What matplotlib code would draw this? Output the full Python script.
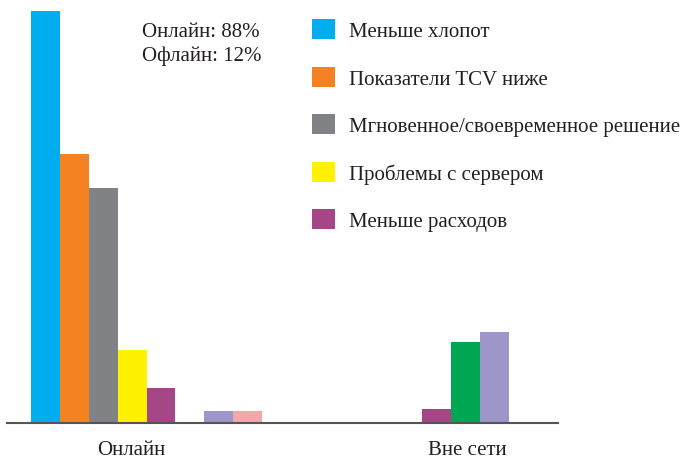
import numpy as np
import matplotlib.pyplot as plt

plt.rcParams['font.family'] = ['Liberation Serif', 'DejaVu Serif']

groups = ["Онлайн", "Вне сети"]
series = ["Меньше хлопот", "Показатели TCV ниже", "Мгновенное/своевременное решение",
          "Проблемы с сервером", "Меньше расходов", "Другое (зелёный)",
          "Другое (лиловый)", "Другое (розовый)"]
colors = ["#00AEEF", "#F58220", "#808285", "#FFF200", "#A54686",
          "#00A651", "#9E96C9", "#F4A7A9"]
# values per series: [Онлайн, Вне сети]
values = [
    [100.0, 0.0],
    [65.3, 0.0],
    [57.0, 0.0],
    [17.7, 0.0],
    [8.5, 3.4],
    [0.0, 19.7],
    [2.9, 22.1],
    [2.9, 0.0],
]
legend_count = 5
note = "Онлайн: 88%\nОфлайн: 12%"

group_start = np.array([0.0, 9.55])
label_pos = [3.46, 15.09]
fs = 15.0

fig = plt.figure(figsize=(6.87, 4.6), dpi=100)
ax = fig.add_axes([7/687, 36/460, 551/687, 424/460])

handles = []
for i, (name, c) in enumerate(zip(series, colors)):
    b = ax.bar(group_start + i, values[i], width=1.0, align="edge", color=c,
               label=name, linewidth=0)
    handles.append(b)

ax.set_xlim(-0.83, 18.24)
ax.set_ylim(0, 102.9)
for s in ["top", "right", "left"]:
    ax.spines[s].set_visible(False)
ax.spines["bottom"].set_color("#555555")
ax.spines["bottom"].set_linewidth(1.5)
ax.set_yticks([])
ax.set_xticks(label_pos)
ax.set_xticklabels(groups, fontsize=fs, color="#231F20")
ax.tick_params(axis="x", length=0, pad=12)

fig.text(142/687, 1 - 23/460, note, fontsize=fs, color="#231F20",
         va="top", ha="left", linespacing=1.3)

fig.legend(handles[:legend_count], series[:legend_count], loc="upper left",
           bbox_to_anchor=(312/687, 1 - 20/460), frameon=False, fontsize=fs,
           handlelength=1.1, handleheight=1.1, handletextpad=0.67,
           labelspacing=1.22, borderpad=0, borderaxespad=0,
           labelcolor="#231F20")

fig.savefig("out.png", dpi=100)
